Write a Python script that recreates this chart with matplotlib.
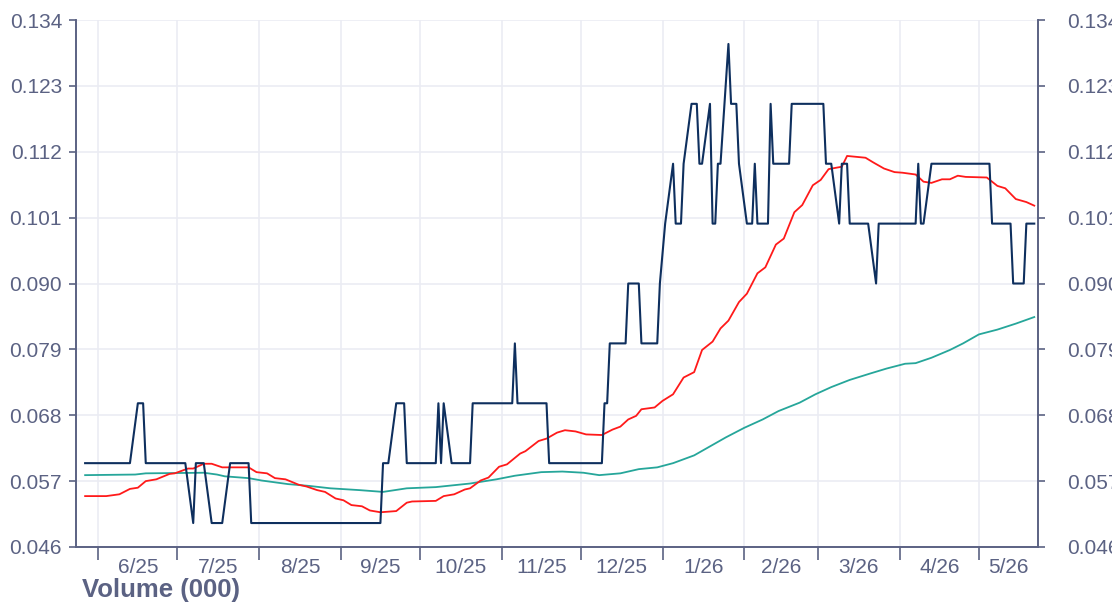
import matplotlib
matplotlib.use("Agg")
import matplotlib.pyplot as plt
import numpy as np
import pandas as pd

plt.rcParams['font.family'] = ['Liberation Sans', 'DejaVu Sans']

# share price (turning points of the daily close line)
price_dates = [
    "2025-05-27", "2025-06-13", "2025-06-16", "2025-06-18", "2025-06-19",
    "2025-07-04", "2025-07-07", "2025-07-08", "2025-07-11", "2025-07-14",
    "2025-07-18", "2025-07-21", "2025-07-28", "2025-07-29", "2025-09-16",
    "2025-09-17", "2025-09-19", "2025-09-22", "2025-09-25", "2025-09-26",
    "2025-10-07", "2025-10-08", "2025-10-09", "2025-10-10", "2025-10-13",
    "2025-10-20", "2025-10-21", "2025-11-05", "2025-11-06", "2025-11-07",
    "2025-11-18", "2025-11-19", "2025-12-09", "2025-12-10", "2025-12-11",
    "2025-12-12", "2025-12-18", "2025-12-19", "2025-12-23", "2025-12-24",
    "2025-12-30", "2025-12-31", "2026-01-02", "2026-01-05", "2026-01-06",
    "2026-01-08", "2026-01-09", "2026-01-12", "2026-01-14", "2026-01-15",
    "2026-01-16", "2026-01-19", "2026-01-20", "2026-01-21", "2026-01-22",
    "2026-01-23", "2026-01-26", "2026-01-27", "2026-01-29", "2026-01-30",
    "2026-02-02", "2026-02-04", "2026-02-05", "2026-02-06", "2026-02-10",
    "2026-02-11", "2026-02-12", "2026-02-18", "2026-02-19", "2026-03-03",
    "2026-03-04", "2026-03-06", "2026-03-09", "2026-03-10", "2026-03-12",
    "2026-03-13", "2026-03-20", "2026-03-23", "2026-03-24", "2026-04-07",
    "2026-04-08", "2026-04-09", "2026-04-10", "2026-04-13", "2026-05-05",
    "2026-05-06", "2026-05-13", "2026-05-14", "2026-05-18", "2026-05-19",
    "2026-05-22",
]
price_values = [
    0.060, 0.060, 0.070, 0.070, 0.060,
    0.060, 0.050, 0.060, 0.060, 0.050,
    0.050, 0.060, 0.060, 0.050, 0.050,
    0.060, 0.060, 0.070, 0.070, 0.060,
    0.060, 0.070, 0.060, 0.070, 0.060,
    0.060, 0.070, 0.070, 0.080, 0.070,
    0.070, 0.060, 0.060, 0.070, 0.070,
    0.080, 0.080, 0.090, 0.090, 0.080,
    0.080, 0.090, 0.100, 0.110, 0.100,
    0.100, 0.110, 0.120, 0.120, 0.110,
    0.110, 0.120, 0.100, 0.100, 0.110,
    0.110, 0.130, 0.120, 0.120, 0.110,
    0.100, 0.100, 0.110, 0.100, 0.100,
    0.120, 0.110, 0.110, 0.120, 0.120,
    0.110, 0.110, 0.100, 0.110, 0.110,
    0.100, 0.100, 0.090, 0.100, 0.100,
    0.110, 0.100, 0.100, 0.110, 0.110,
    0.100, 0.100, 0.090, 0.090, 0.100,
    0.100,
]

# short moving average (red)
ma_short_dates = [
    "2025-05-27", "2025-06-04", "2025-06-09", "2025-06-13", "2025-06-16",
    "2025-06-19", "2025-06-23", "2025-06-28", "2025-06-30", "2025-07-05",
    "2025-07-07", "2025-07-11", "2025-07-14", "2025-07-18", "2025-07-28",
    "2025-07-31", "2025-08-04", "2025-08-07", "2025-08-11", "2025-08-16",
    "2025-08-19", "2025-08-23", "2025-08-26", "2025-08-30", "2025-09-02",
    "2025-09-05", "2025-09-09", "2025-09-12", "2025-09-16", "2025-09-22",
    "2025-09-26", "2025-09-28", "2025-10-07", "2025-10-10", "2025-10-14",
    "2025-10-18", "2025-10-20", "2025-10-24", "2025-10-27", "2025-10-31",
    "2025-11-03", "2025-11-08", "2025-11-10", "2025-11-15", "2025-11-18",
    "2025-11-22", "2025-11-25", "2025-11-29", "2025-12-03", "2025-12-09",
    "2025-12-13", "2025-12-16", "2025-12-19", "2025-12-22", "2025-12-24",
    "2025-12-29", "2026-01-01", "2026-01-05", "2026-01-09", "2026-01-13",
    "2026-01-16", "2026-01-20", "2026-01-23", "2026-01-26", "2026-01-30",
    "2026-02-02", "2026-02-06", "2026-02-09", "2026-02-13", "2026-02-16",
    "2026-02-20", "2026-02-23", "2026-02-27", "2026-03-02", "2026-03-05",
    "2026-03-10", "2026-03-12", "2026-03-19", "2026-03-22", "2026-03-26",
    "2026-03-30", "2026-04-02", "2026-04-07", "2026-04-10", "2026-04-13",
    "2026-04-17", "2026-04-20", "2026-04-23", "2026-04-26", "2026-05-04",
    "2026-05-08", "2026-05-11", "2026-05-15", "2026-05-19", "2026-05-22",
]
ma_short_values = [
    0.0545, 0.0545, 0.0548, 0.0557, 0.0559,
    0.0570, 0.0573, 0.0582, 0.0583, 0.0591,
    0.0591, 0.0599, 0.0599, 0.0593, 0.0593,
    0.0585, 0.0583, 0.0575, 0.0573, 0.0564,
    0.0561, 0.0555, 0.0552, 0.0541, 0.0538,
    0.0530, 0.0528, 0.0521, 0.0518, 0.0520,
    0.0534, 0.0536, 0.0537, 0.0545, 0.0548,
    0.0556, 0.0558, 0.0571, 0.0576, 0.0594,
    0.0598, 0.0616, 0.0620, 0.0637, 0.0641,
    0.0651, 0.0655, 0.0653, 0.0648, 0.0647,
    0.0656, 0.0661, 0.0673, 0.0679, 0.0690,
    0.0693, 0.0704, 0.0715, 0.0743, 0.0752,
    0.0789, 0.0803, 0.0825, 0.0838, 0.0869,
    0.0883, 0.0917, 0.0927, 0.0965, 0.0975,
    0.1019, 0.1031, 0.1064, 0.1073, 0.1091,
    0.1095, 0.1113, 0.1110, 0.1102, 0.1092,
    0.1086, 0.1085, 0.1082, 0.1070, 0.1068,
    0.1074, 0.1074, 0.1080, 0.1078, 0.1077,
    0.1063, 0.1059, 0.1041, 0.1036, 0.1030,
]

# long moving average (teal)
ma_long_dates = [
    "2025-05-27", "2025-06-15", "2025-06-19", "2025-07-11", "2025-07-16",
    "2025-07-19", "2025-07-28", "2025-08-02", "2025-08-12", "2025-08-20",
    "2025-08-28", "2025-09-08", "2025-09-17", "2025-09-26", "2025-10-07",
    "2025-10-20", "2025-10-30", "2025-11-06", "2025-11-16", "2025-11-24",
    "2025-12-02", "2025-12-08", "2025-12-16", "2025-12-23", "2025-12-30",
    "2026-01-05", "2026-01-13", "2026-01-19", "2026-01-25", "2026-02-01",
    "2026-02-08", "2026-02-14", "2026-02-22", "2026-02-28", "2026-03-06",
    "2026-03-13", "2026-03-21", "2026-03-27", "2026-04-03", "2026-04-07",
    "2026-04-13", "2026-04-20", "2026-04-25", "2026-05-01", "2026-05-08",
    "2026-05-15", "2026-05-22",
]
ma_long_values = [
    0.0580, 0.0581, 0.0583, 0.0584, 0.0581,
    0.0578, 0.0575, 0.0571, 0.0565, 0.0562,
    0.0558, 0.0555, 0.0552, 0.0558, 0.0560,
    0.0566, 0.0573, 0.0579, 0.0585, 0.0586,
    0.0584, 0.0580, 0.0583, 0.0590, 0.0593,
    0.0600, 0.0613, 0.0628, 0.0643, 0.0659,
    0.0673, 0.0687, 0.0701, 0.0715, 0.0727,
    0.0739, 0.0750, 0.0758, 0.0766, 0.0767,
    0.0776, 0.0789, 0.0800, 0.0815, 0.0823,
    0.0833, 0.0844,
]

y_ticks = [0.046, 0.057, 0.068, 0.079, 0.090, 0.101, 0.112, 0.123, 0.134]
month_starts = pd.date_range("2025-06-01", "2026-05-01", freq="MS")
x_start = pd.Timestamp("2025-05-23 13:00")
x_end = pd.Timestamp("2026-05-23 10:00")

axis_col = "#5b6283"
grid_col = "#ebecf3"

fig = plt.figure(figsize=(11.12, 6.03), dpi=100)
ax = fig.add_axes([76 / 1112, 56 / 603, 962 / 1112, 527 / 603])

ax.plot(pd.to_datetime(ma_long_dates), ma_long_values, color="#26a69a", lw=1.3, zorder=3)
ax.plot(pd.to_datetime(ma_short_dates), ma_short_values, color="#ff1a1a", lw=1.3, zorder=4)
ax.plot(pd.to_datetime(price_dates), price_values, color="#0e2f5e", lw=1.5, zorder=5)

ax.set_xlim(x_start, x_end)
ax.set_ylim(y_ticks[0], y_ticks[-1])

# y axis: labels on both sides
ax.set_yticks(y_ticks)
ax.set_yticklabels([f"{v:.3f}" for v in y_ticks])
ax.tick_params(axis="y", direction="out", length=5, width=1.2, color=axis_col,
               labelcolor=axis_col, labelsize=15, pad=5)
ax2 = ax.twinx()
ax2.set_ylim(ax.get_ylim())
ax2.set_yticks(y_ticks)
ax2.set_yticklabels([f"{v:.3f}" for v in y_ticks])
ax2.tick_params(axis="y", direction="out", length=5, width=1.2, color=axis_col,
                labelcolor=axis_col, labelsize=15, pad=16)

# x axis: ticks at month boundaries, labels centred in each month
ax.set_xticks(month_starts)
ax.set_xticklabels([])
ax.tick_params(axis="x", which="major", direction="out", length=9, width=1.2, color=axis_col)
mids = []
for i, m in enumerate(month_starts):
    nxt = month_starts[i + 1] if i + 1 < len(month_starts) else x_end
    mids.append(m + (nxt - m) / 2)
ax.set_xticks(mids, minor=True)
ax.set_xticklabels([m.strftime("%-m/%y") for m in month_starts], minor=True)
ax.tick_params(axis="x", which="minor", length=0, pad=8, labelsize=15, labelcolor=axis_col)

ax.grid(True, which="major", color=grid_col, lw=1.2)
ax.set_axisbelow(True)

for a in (ax, ax2):
    a.spines["top"].set_visible(False)
    for s in ("left", "right", "bottom"):
        a.spines[s].set_color(axis_col)
        a.spines[s].set_linewidth(1.2)

fig.text(82 / 1112, 1 - 590 / 603, "Volume (000)", fontsize=18.5, fontweight="bold",
         color=axis_col, va="center", ha="left")

fig.savefig("out.png", dpi=100)
plt.close(fig)
